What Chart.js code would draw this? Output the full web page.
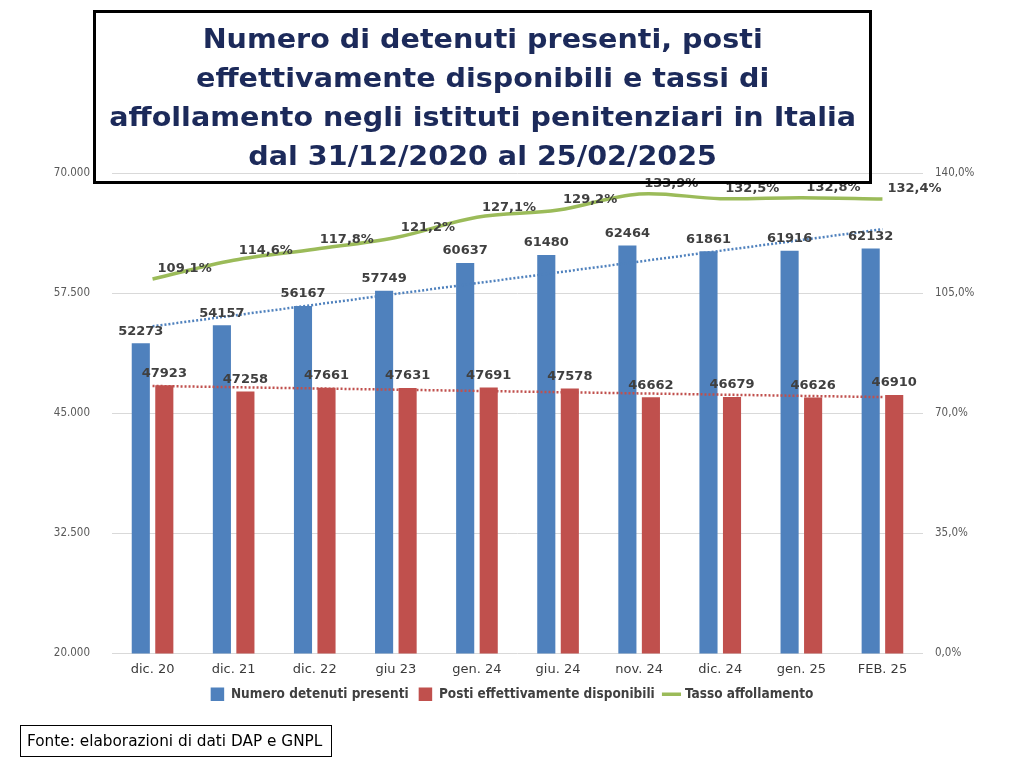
<!DOCTYPE html>
<html><head><meta charset="utf-8">
<script src="https://cdn.jsdelivr.net/npm/chart.js@4"></script>
<style>
html,body{margin:0;padding:0;background:#fff;}
#wrap{position:relative;width:1024px;height:768px;overflow:hidden;}
#c{position:absolute;left:0;top:0;}
#title{position:absolute;left:93px;top:10px;width:779px;height:174px;box-sizing:border-box;border:3px solid #000;display:flex;align-items:center;justify-content:center;text-align:center;}
#title span{font-family:"DejaVu Sans";font-weight:bold;font-size:27px;line-height:39px;color:#1c2a5a;white-space:nowrap;display:inline-block;}
#src{position:absolute;left:20px;top:725px;width:312px;height:32px;box-sizing:border-box;border:1px solid #000;font-family:"DejaVu Sans";font-size:15.3px;line-height:30px;padding-left:6px;white-space:nowrap;color:#000;}
</style>
</head><body>
<div id="wrap">
<canvas id="c" width="1024" height="768"></canvas>
<div id="title"><span id="tspan">Numero di detenuti presenti, posti<br>effettivamente disponibili e tassi di<br>affollamento negli istituti penitenziari in Italia<br>dal 31/12/2020 al 25/02/2025</span></div>
<div id="src">Fonte: elaborazioni di dati DAP e GNPL</div>
</div>
<script>
const categories = ['dic. 20','dic. 21','dic. 22','giu 23','gen. 24','giu. 24','nov. 24','dic. 24','gen. 25','FEB. 25'];
const detenuti = [52273, 54157, 56167, 57749, 60637, 61480, 62464, 61861, 61916, 62132];
const posti = [47923, 47258, 47661, 47631, 47691, 47578, 46662, 46679, 46626, 46910];
const tasso = [109.1, 114.6, 117.8, 121.2, 127.1, 129.2, 133.9, 132.5, 132.8, 132.4];
// dotted trend lines (endpoints)
const trendDetenuti = [54050, 64150];
const trendPosti = [47840, 46680];
const leftTicks = [20000, 32500, 45000, 57500, 70000];
const rightTicks = [0, 35, 70, 105, 140];

// fit title width like the original (narrower font)
(function(){
  const s = document.getElementById('tspan');
  const w = s.getBoundingClientRect().width;
  const k = 747 / w;
  s.style.transform = 'scaleX(' + k.toFixed(3) + ')';
})();

function fmtThousands(v){
  return String(Math.round(v)).replace(/\B(?=(\d{3})+(?!\d))/g, '.');
}
function fmtPct(v){
  return v.toFixed(1).replace('.', ',') + '%';
}

const COL_BLUE = '#4f81bd', COL_RED = '#c0504d', COL_GREEN = '#9bbb59';

const labelPlugin = {
  id: 'vlabels',
  afterDatasetsDraw(chart){
    const ctx = chart.ctx;
    ctx.save();
    ctx.font = 'bold 13px "DejaVu Sans"';
    ctx.fillStyle = '#404040';
    ctx.textBaseline = 'middle';
    [0, 1].forEach(di => {
      const meta = chart.getDatasetMeta(di);
      meta.data.forEach((el, i) => {
        ctx.textAlign = 'center';
        ctx.fillText(String(chart.data.datasets[di].data[i]), el.x, el.y - 12);
      });
    });
    const m = chart.getDatasetMeta(2);
    m.data.forEach((el, i) => {
      ctx.textAlign = 'left';
      ctx.fillText(fmtPct(tasso[i]), el.x + 5, el.y - 10);
    });
    ctx.restore();
  }
};

new Chart(document.getElementById('c'), {
  type: 'bar',
  data: {
    labels: categories,
    datasets: [
      { type: 'bar', label: 'Numero detenuti presenti', data: detenuti, backgroundColor: COL_BLUE, borderWidth: 0,
        yAxisID: 'y', order: 3, categoryPercentage: 0.58, barPercentage: 0.77, pointStyle: 'rect' },
      { type: 'bar', label: 'Posti effettivamente disponibili', data: posti, backgroundColor: COL_RED, borderWidth: 0,
        yAxisID: 'y', order: 3, categoryPercentage: 0.58, barPercentage: 0.77, pointStyle: 'rect' },
      { type: 'line', label: 'Tasso affollamento', data: tasso, borderColor: COL_GREEN, backgroundColor: COL_GREEN,
        borderWidth: 3.5, pointRadius: 0, tension: 0.35, yAxisID: 'y1', order: 1, pointStyle: 'line' },
      { type: 'line', label: 'trend1', data: [{x: categories[0], y: trendDetenuti[0]}, {x: categories[categories.length-1], y: trendDetenuti[1]}],
        borderColor: COL_BLUE, borderWidth: 2.5, borderDash: [2, 2], pointRadius: 0, yAxisID: 'y', order: 2 },
      { type: 'line', label: 'trend2', data: [{x: categories[0], y: trendPosti[0]}, {x: categories[categories.length-1], y: trendPosti[1]}],
        borderColor: COL_RED, borderWidth: 2.5, borderDash: [2, 2], pointRadius: 0, yAxisID: 'y', order: 2 }
    ]
  },
  options: {
    responsive: false,
    animation: false,
    devicePixelRatio: 1,
    layout: { padding: { top: 173, bottom: 57, left: 0, right: 0 } },
    plugins: {
      legend: {
        position: 'bottom',
        labels: {
          filter: (item) => item.datasetIndex < 3,
          sort: (a, b) => a.datasetIndex - b.datasetIndex,
          usePointStyle: true,
          boxHeight: 14,
          boxWidth: 14,
          padding: 10,
          color: '#404040',
          font: { family: '"DejaVu Sans Condensed"', size: 13.5, weight: 'bold' }
        }
      },
      tooltip: { enabled: false }
    },
    scales: {
      x: {
        grid: { display: false, drawTicks: false },
        border: { display: false },
        ticks: { color: '#3a3a3a', padding: 8, font: { family: '"DejaVu Sans"', size: 13 } },
        afterFit(s){ s.height = 24; }
      },
      y: {
        position: 'left',
        min: 20000, max: 70000,
        afterBuildTicks(s){ s.ticks = leftTicks.map(v => ({value: v})); },
        grid: { color: '#d9d9d9', lineWidth: 1, drawTicks: false },
        border: { display: false },
        ticks: { color: '#595959', padding: 22, font: { family: '"DejaVu Sans Condensed"', size: 11.5 },
          callback: (v) => fmtThousands(v) },
        afterFit(s){ s.width = 112; }
      },
      y1: {
        position: 'right',
        min: 0, max: 140,
        afterBuildTicks(s){ s.ticks = rightTicks.map(v => ({value: v})); },
        grid: { display: false, drawTicks: false },
        border: { display: false },
        ticks: { color: '#595959', padding: 12, font: { family: '"DejaVu Sans Condensed"', size: 11.5 },
          callback: (v) => fmtPct(v) },
        afterFit(s){ s.width = 101; }
      }
    }
  },
  plugins: [labelPlugin]
});
</script>
</body></html>
